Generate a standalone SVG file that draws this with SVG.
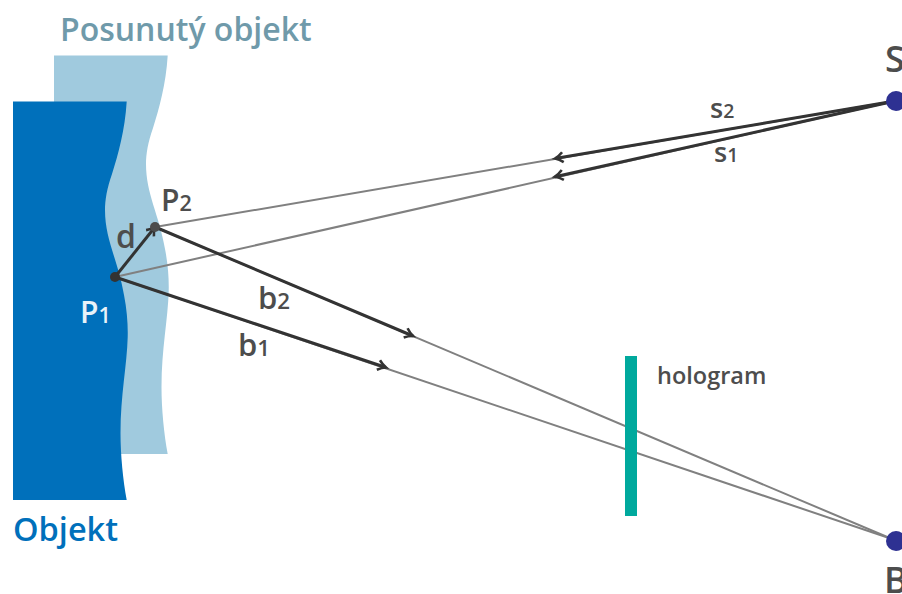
<svg xmlns="http://www.w3.org/2000/svg" width="902" height="594" viewBox="0 0 902 594">
<style>
text{font-family:"Open Sans","Noto Sans","Liberation Sans",sans-serif;font-weight:600;fill:#4d4d4d}
.ray{stroke:#808080;stroke-width:2;fill:none}
.vec{stroke:#333;stroke-width:3;fill:none;marker-end:url(#arrow)}
.sub{font-size:.72em}
</style>
<defs>
<marker id="arrow" markerUnits="userSpaceOnUse" markerWidth="16" markerHeight="16" refX="12" refY="8" orient="auto">
<path d="M4 3Q8 6.500 12 8Q8 9.500 4 13" fill="none" stroke="#333" stroke-width="2.600"/>
</marker>
<path id="wave" d="M13 101.500H126.700C125 130 118 155 112 174C107 188 105 200 105 210C105 240 118 260 124 295C127 310 128 325 127.700 337C127 365 120.500 395 120.500 433C120.500 455 123 480 126.700 500H13Z"/>
</defs>
<g id="posunuty-objekt"><use href="#wave" transform="translate(41 -46)" fill="#a0cade"/><text x="60" y="41" font-size="32" style="fill:#6f9aaa">Posunutý objekt</text></g>
<g id="objekt"><use href="#wave" fill="#0070bb"/><text x="13" y="541" font-size="32.500" style="fill:#0070bb">Objekt</text></g>
<g id="connectors">
<line class="ray" x1="115" y1="277" x2="892" y2="539"/>
<line class="ray" x1="155" y1="227" x2="892" y2="539"/>
<line class="ray" x1="115" y1="277" x2="895" y2="101"/>
<line class="ray" x1="155" y1="227" x2="895" y2="101"/>
<line class="vec" x1="895" y1="101" x2="555" y2="176.700"/>
<line class="vec" x1="895" y1="101" x2="555" y2="158.500"/>
<line class="vec" x1="115" y1="277" x2="386" y2="367.500"/>
<line class="vec" x1="155" y1="227" x2="413" y2="336"/>
<line class="vec" x1="115" y1="277" x2="155" y2="227"/>
</g>
<g id="hologram"><rect x="625" y="356" width="12" height="160" fill="#00a99d"/><text x="657" y="384" font-size="23.500">hologram</text></g>
<g id="p1"><circle cx="115" cy="277" r="5" fill="#333"/><text x="80" y="323" font-size="30" style="fill:#e8f2f8">P<tspan class="sub">1</tspan></text></g>
<g id="p2"><circle cx="155" cy="227" r="5" fill="#4d4d4d"/><text x="161" y="211" font-size="30">P<tspan class="sub">2</tspan></text></g>
<g id="d-label"><text x="116" y="248" font-size="32">d</text></g>
<g id="s1-label"><text x="714" y="162" font-size="27">s<tspan class="sub">1</tspan></text></g>
<g id="s2-label"><text x="710" y="118" font-size="27">s<tspan class="sub">2</tspan></text></g>
<g id="b1-label"><text x="238" y="356" font-size="31">b<tspan class="sub">1</tspan></text></g>
<g id="b2-label"><text x="258" y="309" font-size="31">b<tspan class="sub">2</tspan></text></g>
<g id="s"><circle cx="896" cy="101" r="10" fill="#2e3192"/><text x="885" y="72" font-size="36">S</text></g>
<g id="b"><circle cx="896" cy="541" r="10" fill="#2e3192"/><text x="884" y="593" font-size="36">B</text></g>
</svg>
